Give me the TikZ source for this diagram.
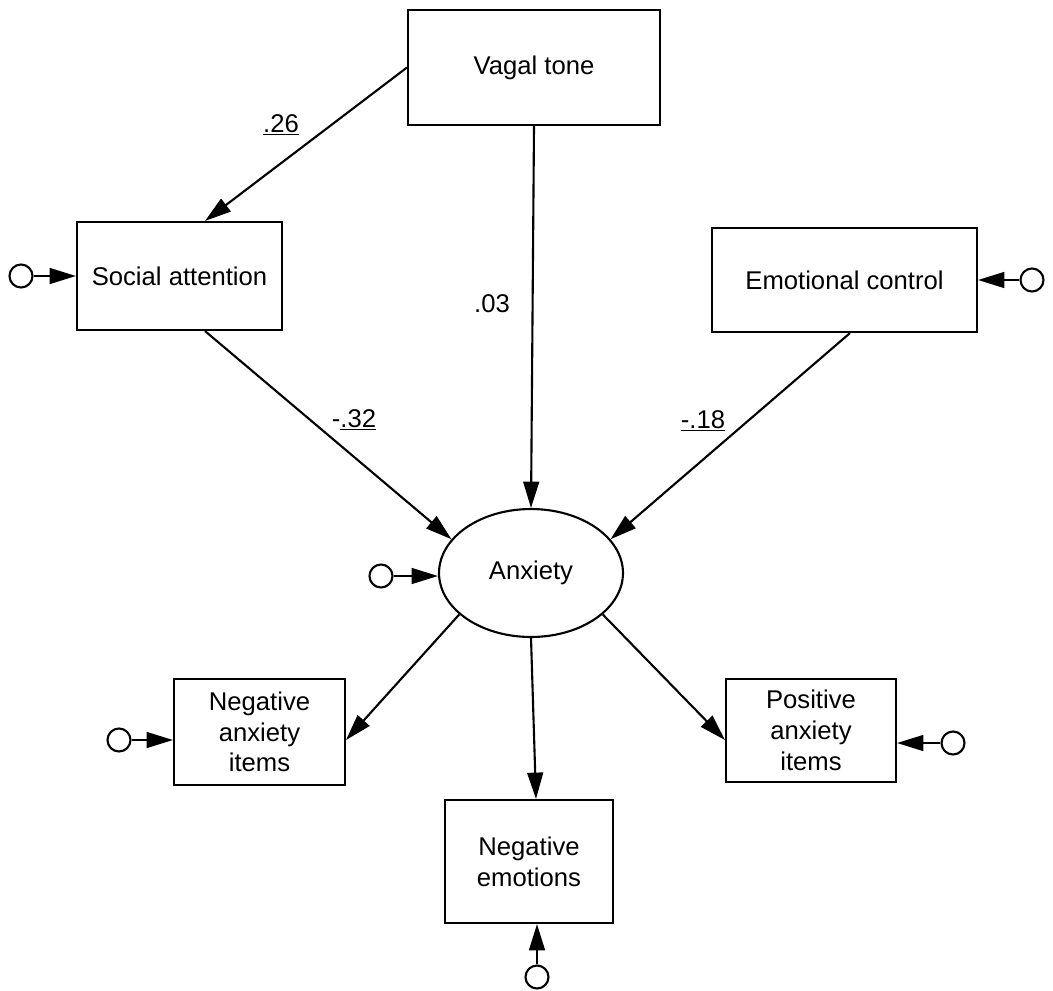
\documentclass[tikz,border=0pt]{standalone}
\usepackage{fontspec}
\setmainfont{Liberation Sans}
\usetikzlibrary{arrows.meta,calc,shapes.geometric}
\begin{document}
\begin{tikzpicture}[x=0.02cm,y=-0.02cm,
  lw/.style={line width=1.2pt},
  box/.style={draw,lw,rectangle,align=center,inner sep=0pt,font=\fontsize{14.6}{17.5}\selectfont},
  latent/.style={draw,lw,ellipse,inner sep=0pt,font=\fontsize{14.6}{17.5}\selectfont},
  sempath/.style={lw,-{Triangle[length=15pt,width=9pt]}},
  err/.style={draw,circle,lw,minimum size=0.46cm,inner sep=0pt},
  lab/.style={font=\fontsize{14.6}{17.5}\selectfont,inner sep=0pt,anchor=base}]
\useasboundingbox (0,0) rectangle (1053,990);
% nodes
\node[box,minimum width=5.04cm,minimum height=2.3cm] (vag) at (534,67.5) {Vagal tone};
\node[box,minimum width=4.1cm,minimum height=2.16cm] (soc) at (179.5,276) {Social attention};
\node[box,minimum width=5.3cm,minimum height=2.08cm] (emo) at (844.5,280) {Emotional control};
\node[latent,minimum width=3.68cm,minimum height=2.56cm] (anx) at (531,573) {Anxiety};
\node[box,minimum width=3.42cm,minimum height=2.12cm] (nega) at (259.5,732) {Negative\\anxiety\\items};
\node[box,minimum width=3.4cm,minimum height=2.06cm] (pos) at (811,730.5) {Positive\\anxiety\\items};
\node[box,minimum width=3.36cm,minimum height=2.46cm] (nege) at (529,861.5) {Negative\\emotions};
% error terms
\node[err] (e1) at (21,276) {};
\node[err] (e2) at (1032,280) {};
\node[err] (e3) at (381,576) {};
\node[err] (e4) at (119,740) {};
\node[err] (e5) at (953,743) {};
\node[err] (e6) at (537,977) {};
% paths
\draw[sempath] (vag.west) -- ($(soc.north)+(25.5,0)$);
\draw[sempath] (vag.south) -- (anx.north);
\draw[sempath] ($(soc.south)+(25.5,0)$) -- (anx.157);
\draw[sempath] ($(emo.south)+(5.5,0)$) -- (anx.23);
\draw[sempath] (anx.210) -- ($(nega.east)+(0,8)$);
\draw[sempath] (anx.south) -- ($(nege.north)+(7,0)$);
\draw[sempath] (anx.330) -- ($(pos.west)+(0,9.5)$);
% error arrows
\draw[sempath] (e1) -- (soc.west);
\draw[sempath] (e2) -- (emo.east);
\draw[sempath] (e3) -- (e3 -| anx.west);
\draw[sempath] (e4) -- (e4 -| nega.west);
\draw[sempath] (e5) -- (e5 -| pos.east);
\draw[sempath] (e6) -- (e6 |- nege.south);
% labels
\node[lab] (l1) at (281,132) {\underline{.26}};
\node[lab] (l2) at (492,312) {.03};
\node[lab] (l3) at (354,427) {-\underline{.32}};
\node[lab] (l4) at (703,428) {\underline{-.18}};
\end{tikzpicture}
\end{document}
